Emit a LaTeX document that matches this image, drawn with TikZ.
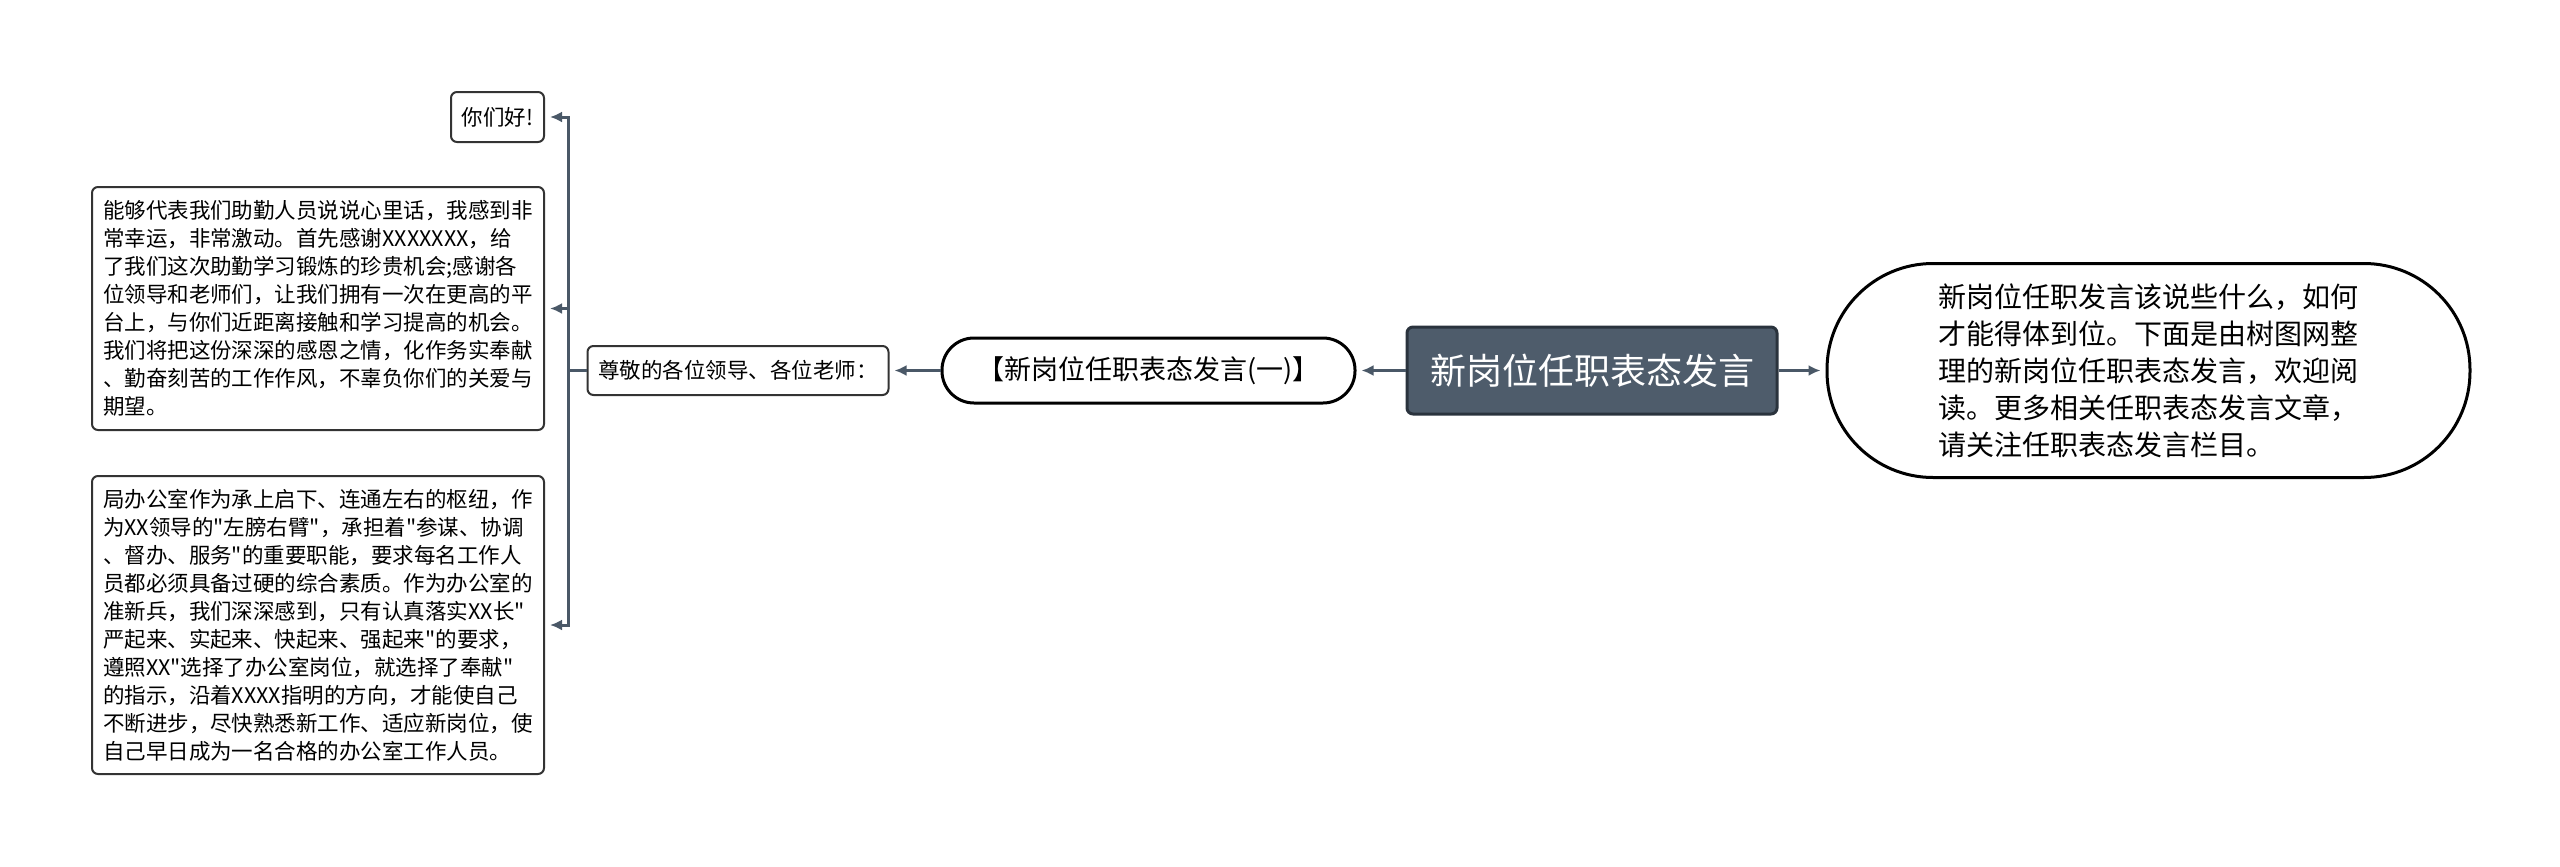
\documentclass[tikz,border=0pt]{standalone}
\usepackage{fontspec}
\usepackage{xcolor}
\usepackage{tikz}
\usetikzlibrary{arrows.meta,calc,positioning}
\setmainfont{Noto Sans CJK SC}[Ligatures=TeXOff]
\definecolor{rootfill}{HTML}{4E5C6B}
\definecolor{rootline}{HTML}{2A333D}
\definecolor{linkgray}{HTML}{4A5867}
\definecolor{boxline}{HTML}{333333}
\tikzset{
  flow/.style={-{Latex[length=6pt,width=5.5pt]},line width=1.5pt,draw=linkgray,shorten >=2.5pt},
  link/.style={line width=1.5pt,draw=linkgray},
  topic/.style={draw=rootline,fill=rootfill,line width=1.5pt,rounded corners=3pt,text=white,
    font=\fontsize{18}{22}\selectfont,minimum width=185pt,minimum height=43.5pt,inner sep=0pt},
  pill/.style={draw=black,line width=1.5pt,fill=white,align=left,inner sep=0pt},
  subtopic/.style={pill,rounded corners=16pt,minimum width=206.5pt,minimum height=32.5pt,
    font=\fontsize{13.5}{16}\selectfont},
  summary/.style={pill,rounded corners=53pt,minimum width=321.5pt,minimum height=107pt,
    font=\fontsize{14}{18.5}\selectfont},
  leaf/.style={draw=boxline,line width=1pt,fill=white,rounded corners=3pt,align=left,
    inner sep=0pt,font=\fontsize{10.75}{14}\selectfont}
}

\begin{document}
\begin{tikzpicture}[x=0.5pt,y=-0.5pt]
  \useasboundingbox (0,0) rectangle (2560,867);

  \node[topic] (root) at (1592,370.5) {新岗位任职表态发言};
  \node[subtopic,left=24.5pt of root] (speech) {【新岗位任职表态发言(一)】};
  \node[summary,right=23.5pt of root] (about) {新岗位任职发言该说些什么，如何\\才能得体到位。下面是由树图网整\\理的新岗位任职表态发言，欢迎阅\\读。更多相关任职表态发言文章，\\请关注任职表态发言栏目。};
  \node[leaf,left=25.5pt of speech,minimum width=150.5pt,minimum height=24.5pt] (greet) {尊敬的各位领导、各位老师：};

  \node[leaf,minimum width=46.5pt,minimum height=25pt] (hello) at (497.5,117) {你们好!};
  \node[leaf,minimum width=226pt,minimum height=121.5pt] (thanks) at (318,308.5) {能够代表我们助勤人员说说心里话，我感到非\\常幸运，非常激动。首先感谢XXXXXXX，给\\了我们这次助勤学习锻炼的珍贵机会;感谢各\\位领导和老师们，让我们拥有一次在更高的平\\台上，与你们近距离接触和学习提高的机会。\\我们将把这份深深的感恩之情，化作务实奉献\\、勤奋刻苦的工作作风，不辜负你们的关爱与\\期望。};
  \node[leaf,minimum width=226pt,minimum height=149pt] (duty) at (318,625) {局办公室作为承上启下、连通左右的枢纽，作\\为XX领导的"左膀右臂"，承担着"参谋、协调\\、督办、服务"的重要职能，要求每名工作人\\员都必须具备过硬的综合素质。作为办公室的\\准新兵，我们深深感到，只有认真落实XX长"\\严起来、实起来、快起来、强起来"的要求，\\遵照XX"选择了办公室岗位，就选择了奉献"\\的指示，沿着XXXX指明的方向，才能使自己\\不断进步，尽快熟悉新工作、适应新岗位，使\\自己早日成为一名合格的办公室工作人员。};

  \coordinate (bus) at ($(greet.west)+(-18,0)$);

  \draw[flow] (root.west) -- (speech.east);
  \draw[flow] (root.east) -- (about.west);
  \draw[flow] (speech.west) -- (greet.east);
  \draw[link] (greet.west) -- (bus);
  \draw[flow] (bus) |- (hello.east);
  \draw[flow] (bus) |- (thanks.east);
  \draw[flow] (bus) |- (duty.east);
\end{tikzpicture}
\end{document}
